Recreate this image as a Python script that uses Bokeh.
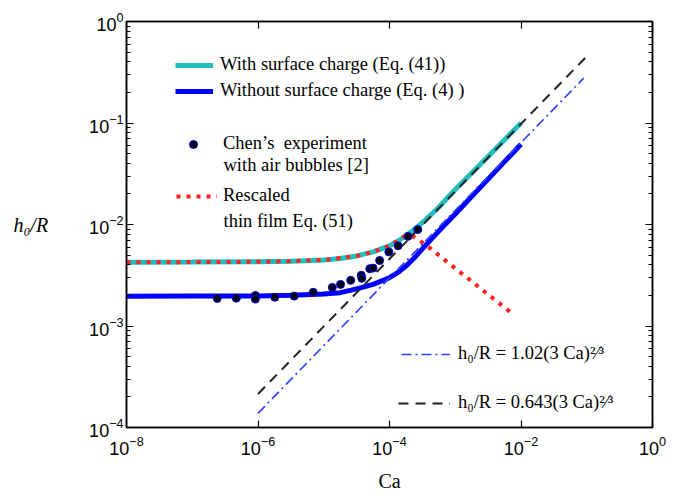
from bokeh.plotting import figure
from bokeh.models import (LogAxis, FixedTicker, Legend, LegendItem, Label,
                          Range1d, CustomJSTickFormatter)
from bokeh.embed import file_html
from bokeh.resources import INLINE

# ---------------- data ----------------
ca_model = [1e-8, 1e-7, 1e-6, 3.16e-6, 1e-5, 1.78e-5, 3.16e-5, 5.62e-5, 1e-4,
            1.33e-4, 1.78e-4, 2.37e-4, 3.16e-4, 5.62e-4, 1e-3, 3.16e-3, 1e-2]
h_with_charge = [4.25e-3, 4.26e-3, 4.29e-3, 4.35e-3, 4.47e-3, 4.62e-3, 4.90e-3,
                 5.37e-3, 6.17e-3, 6.84e-3, 7.76e-3, 8.91e-3, 1.04e-2, 1.48e-2,
                 2.21e-2, 4.68e-2, 1.00e-1]
h_without_charge = [1.96e-3, 1.97e-3, 1.98e-3, 2.01e-3, 2.07e-3, 2.13e-3, 2.32e-3,
                    2.57e-3, 2.99e-3, 3.35e-3, 3.89e-3, 4.68e-3, 5.75e-3, 8.61e-3,
                    1.27e-2, 2.80e-2, 6.17e-2]

ca_thin = [1e-8, 1e-7, 1e-6, 3.16e-6, 1e-5, 3.16e-5, 5.62e-5, 1e-4, 1.33e-4,
           1.66e-4, 2.00e-4, 2.40e-4, 3.55e-4, 6.31e-4, 2.00e-3, 7.76e-3]
h_thin = [4.25e-3, 4.26e-3, 4.29e-3, 4.35e-3, 4.47e-3, 4.90e-3, 5.37e-3, 6.17e-3,
          6.92e-3, 7.59e-3, 7.85e-3, 7.50e-3, 6.31e-3, 4.68e-3, 2.59e-3, 1.29e-3]

ca_exp = [2.40e-7, 4.68e-7, 9.12e-7, 9.12e-7, 1.80e-6, 3.55e-6, 6.92e-6, 1.35e-5,
          1.80e-5, 2.57e-5, 3.72e-5, 3.80e-5, 5.01e-5, 5.62e-5, 7.08e-5, 9.77e-5,
          1.35e-4, 1.91e-4, 2.69e-4]
h_exp = [1.87e-3, 1.88e-3, 2.00e-3, 1.84e-3, 1.92e-3, 1.97e-3, 2.15e-3, 2.40e-3,
         2.57e-3, 2.82e-3, 3.16e-3, 2.95e-3, 3.67e-3, 3.72e-3, 4.42e-3, 5.37e-3,
         6.17e-3, 7.64e-3, 8.91e-3]

ca_asym_a = [1e-6, 9.0e-2]
h_asym_102 = [1.38e-4, 2.77e-1]
ca_asym_b = [1e-6, 1e-1]
h_asym_0643 = [2.14e-4, 4.54e-1]

x_ticks = [1e-8, 1e-6, 1e-4, 1e-2, 1e0]
y_ticks = [1e-4, 1e-3, 1e-2, 1e-1, 1e0]
y_minor = [k * 10.0 ** e for e in range(-4, 0) for k in range(2, 10)]

# ---------------- styling ----------------
CYAN = "#22bdbd"
BLUE = "#0000ff"
RED = "#ff2020"
SERIF = "Liberation Serif"
SANS = "Liberation Sans"

p = figure(width=677, height=494, x_axis_type="log", y_axis_type="log",
           x_range=Range1d(1e-8, 1), y_range=Range1d(1e-4, 1),
           output_backend="svg", toolbar_location=None,
           min_border_left=126, min_border_right=25,
           min_border_top=21, min_border_bottom=65)
p.xgrid.visible = False
p.ygrid.visible = False
p.outline_line_color = "black"
p.outline_line_width = 1.5
p.background_fill_color = "white"
p.border_fill_color = "white"


def style_axis(ax, ticker, labels=True):
    ax.ticker = ticker
    ax.axis_line_color = "black"
    ax.axis_line_width = 1.5
    ax.major_tick_in = 7
    ax.major_tick_out = 0
    ax.minor_tick_in = 4
    ax.minor_tick_out = 0
    ax.major_tick_line_color = "black"
    ax.minor_tick_line_color = "black"
    ax.major_tick_line_width = 1.2
    ax.minor_tick_line_width = 1
    if labels:
        ax.major_label_text_font = SANS
        ax.major_label_text_font_size = "18px"
        ax.major_label_text_color = "black"
    else:
        ax.formatter = CustomJSTickFormatter(code="return ''")
        ax.major_label_text_font_size = "0px"
        ax.major_label_standoff = 0


xt = FixedTicker(ticks=x_ticks, minor_ticks=[])
yt = FixedTicker(ticks=y_ticks, minor_ticks=y_minor)
style_axis(p.xaxis[0], xt)
p.xaxis[0].major_label_standoff = 8
p.xaxis[0].axis_label = "Ca"
p.xaxis[0].axis_label_text_font = SERIF
p.xaxis[0].axis_label_text_font_size = "20px"
p.xaxis[0].axis_label_text_font_style = "normal"
p.xaxis[0].axis_label_text_color = "black"
p.xaxis[0].axis_label_standoff = 12

style_axis(p.yaxis[0], yt)
p.yaxis[0].major_label_standoff = 3
p.yaxis[0].axis_label = "h\u2080/R"
p.yaxis[0].axis_label_text_font = SERIF
p.yaxis[0].axis_label_text_font_size = "20px"
p.yaxis[0].axis_label_text_font_style = "italic"
p.yaxis[0].axis_label_text_color = "black"
p.yaxis[0].axis_label_standoff = 38
try:
    p.yaxis[0].axis_label_orientation = "horizontal"
except Exception:
    pass

top_ax = LogAxis()
style_axis(top_ax, FixedTicker(ticks=x_ticks, minor_ticks=[]), labels=False)
p.add_layout(top_ax, "above")
right_ax = LogAxis()
style_axis(right_ax, FixedTicker(ticks=y_ticks, minor_ticks=y_minor), labels=False)
p.add_layout(right_ax, "right")

# ---------------- glyphs ----------------
r_cyan = p.line(ca_model, h_with_charge, line_color=CYAN, line_width=5)
r_blue = p.line(ca_model, h_without_charge, line_color=BLUE, line_width=5)
r_red = p.line(ca_thin, h_thin, line_color=RED, line_width=4, line_dash="4 6")
r_dd = p.line(ca_asym_a, h_asym_102, line_color="#3344ff", line_width=1.7,
              line_dash="10 4 2 4")
r_dash = p.line(ca_asym_b, h_asym_0643, line_color="#222222", line_width=2,
                line_dash="10 7")
r_exp = p.scatter(ca_exp, h_exp, size=8, fill_color="black", line_color=BLUE,
                  line_width=1)


def add_legend(label, renderer, x, y, gw, standoff):
    lg = Legend(items=[LegendItem(label=label, renderers=[renderer])],
                location=(x, y), padding=0, margin=0, spacing=0,
                glyph_width=gw, glyph_height=20, label_height=20,
                label_standoff=standoff, border_line_alpha=0,
                background_fill_alpha=0, label_text_font=SERIF,
                label_text_font_size="18.5px", label_text_color="black")
    p.add_layout(lg, "center")


add_legend("With surface charge (Eq. (41))", r_cyan, 49, 352, 38, 7)
add_legend("Without surface charge (Eq. (4) )", r_blue, 49, 326, 38, 7)
add_legend("Chen\u2019s  experiment", r_exp, 57, 273, 20, 20)
add_legend("Rescaled", r_red, 50, 221, 41, 6)
add_legend("h\u2080/R = 1.02(3 Ca)\u00b2\u2044\u00b3", r_dd, 275, 63, 49, 8)
add_legend("h\u2080/R = 0.643(3 Ca)\u00b2\u2044\u00b3", r_dash, 272, 14, 52, 8)

for txt, x, y in [("with air bubbles  [2]", 97, 263), ("thin film Eq. (51)", 97, 207)]:
    p.add_layout(Label(x=x, y=y, x_units="screen", y_units="screen", text=txt,
                       text_font=SERIF, text_font_size="18.5px",
                       text_baseline="middle", text_color="black"))

open("out.html", "w").write(file_html(p, INLINE))
